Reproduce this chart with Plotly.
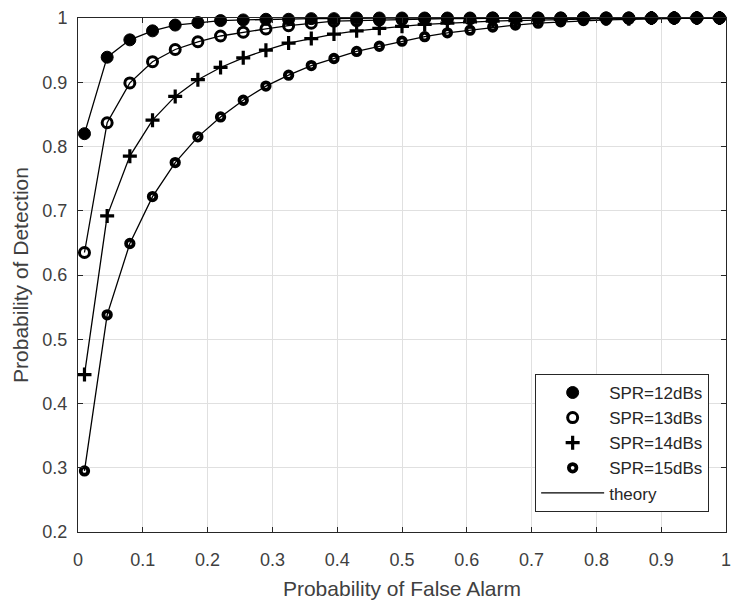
import plotly.graph_objects as go

# False-alarm probabilities at which detection was evaluated
pfa = [0.01, 0.045, 0.08, 0.115, 0.15, 0.185, 0.22, 0.255, 0.29, 0.325,
       0.36, 0.395, 0.43, 0.465, 0.5, 0.535, 0.57, 0.605, 0.64, 0.675,
       0.71, 0.745, 0.78, 0.815, 0.85, 0.885, 0.92, 0.955, 0.99]

# Detection probabilities per SPR level
pd_12 = [0.820, 0.939, 0.966, 0.980, 0.989, 0.993, 0.996, 0.997, 0.998, 0.998,
         0.999, 0.999, 1.000, 1.000, 1.000, 1.000, 1.000, 1.000, 1.000, 1.000,
         1.000, 1.000, 1.000, 1.000, 1.000, 1.000, 1.000, 1.000, 1.000]
pd_13 = [0.635, 0.837, 0.899, 0.932, 0.951, 0.963, 0.972, 0.978, 0.983, 0.988,
         0.992, 0.995, 0.996, 0.997, 0.998, 0.999, 0.999, 0.999, 1.000, 1.000,
         1.000, 1.000, 1.000, 1.000, 1.000, 1.000, 1.000, 1.000, 1.000]
pd_14 = [0.445, 0.692, 0.785, 0.841, 0.878, 0.904, 0.923, 0.938, 0.950, 0.961,
         0.968, 0.975, 0.980, 0.984, 0.987, 0.990, 0.992, 0.994, 0.995, 0.996,
         0.997, 0.998, 0.999, 0.999, 0.999, 1.000, 1.000, 1.000, 1.000]
pd_15 = [0.295, 0.538, 0.649, 0.722, 0.775, 0.815, 0.846, 0.872, 0.894, 0.911,
         0.926, 0.937, 0.948, 0.956, 0.964, 0.971, 0.977, 0.981, 0.986, 0.989,
         0.992, 0.994, 0.996, 0.997, 0.998, 0.999, 0.999, 1.000, 1.000]

series_names = ["SPR=12dBs", "SPR=13dBs", "SPR=14dBs", "SPR=15dBs"]
series_values = [pd_12, pd_13, pd_14, pd_15]

x_tick_vals = [0, 0.1, 0.2, 0.3, 0.4, 0.5, 0.6, 0.7, 0.8, 0.9, 1]
x_tick_text = ["0", "0.1", "0.2", "0.3", "0.4", "0.5", "0.6", "0.7", "0.8", "0.9", "1"]
y_tick_vals = [0.2, 0.3, 0.4, 0.5, 0.6, 0.7, 0.8, 0.9, 1]
y_tick_text = ["0.2", "0.3", "0.4", "0.5", "0.6", "0.7", "0.8", "0.9", "1"]

marker_styles = [
    dict(symbol="circle", size=12, color="black", line=dict(width=1, color="black")),
    dict(symbol="circle-open", size=10, color="black", line=dict(width=3, color="black")),
    dict(symbol="cross-thin-open", size=10, color="black", line=dict(width=3.2, color="black")),
    dict(symbol="circle-open", size=7.5, color="black", line=dict(width=3.8, color="black")),
]

FONT = "Liberation Sans, Arial, sans-serif"
INK = "#262626"

fig = go.Figure()

# theory curves (drawn first so markers sit on top)
for i, vals in enumerate(series_values):
    fig.add_trace(go.Scatter(
        x=pfa, y=vals, mode="lines",
        line=dict(color="black", width=1.3),
        name="theory", showlegend=(i == 0), legendrank=10,
        cliponaxis=False, hoverinfo="skip",
    ))

# simulated points
for i, (name, vals) in enumerate(zip(series_names, series_values)):
    fig.add_trace(go.Scatter(
        x=pfa, y=vals, mode="markers",
        marker=marker_styles[i],
        name=name, legendrank=i + 1,
        cliponaxis=False,
    ))

axis_common = dict(
    showline=True, linecolor=INK, linewidth=1, mirror="ticks",
    ticks="inside", ticklen=5, tickcolor=INK, tickwidth=1,
    showgrid=True, gridcolor="#e0e0e0", gridwidth=1,
    zeroline=False, automargin=False,
    tickfont=dict(family=FONT, size=18, color="#404040"),
)

fig.update_xaxes(
    range=[0, 1], tickvals=x_tick_vals, ticktext=x_tick_text,
    title=dict(text="Probability of False Alarm",
               font=dict(family=FONT, size=21, color="#404040"), standoff=13),
    ticklabelstandoff=11,
    **axis_common,
)
fig.update_yaxes(
    range=[0.2, 1], tickvals=y_tick_vals, ticktext=y_tick_text,
    title=dict(text="Probability of Detection",
               font=dict(family=FONT, size=21, color="#404040"), standoff=8),
    ticklabelstandoff=6,
    **axis_common,
)

fig.update_layout(
    width=733, height=600,
    margin=dict(l=78, r=7, t=18, b=68, autoexpand=False),
    paper_bgcolor="white", plot_bgcolor="white",
    font=dict(family=FONT, color=INK),
    legend=dict(
        x=0.974, y=0.039, xanchor="right", yanchor="bottom",
        bgcolor="white", bordercolor=INK, borderwidth=1,
        font=dict(family=FONT, size=17, color="#262626"),
        itemwidth=63, tracegroupgap=0,
    ),
    showlegend=True,
)

fig.write_html("out.html")
